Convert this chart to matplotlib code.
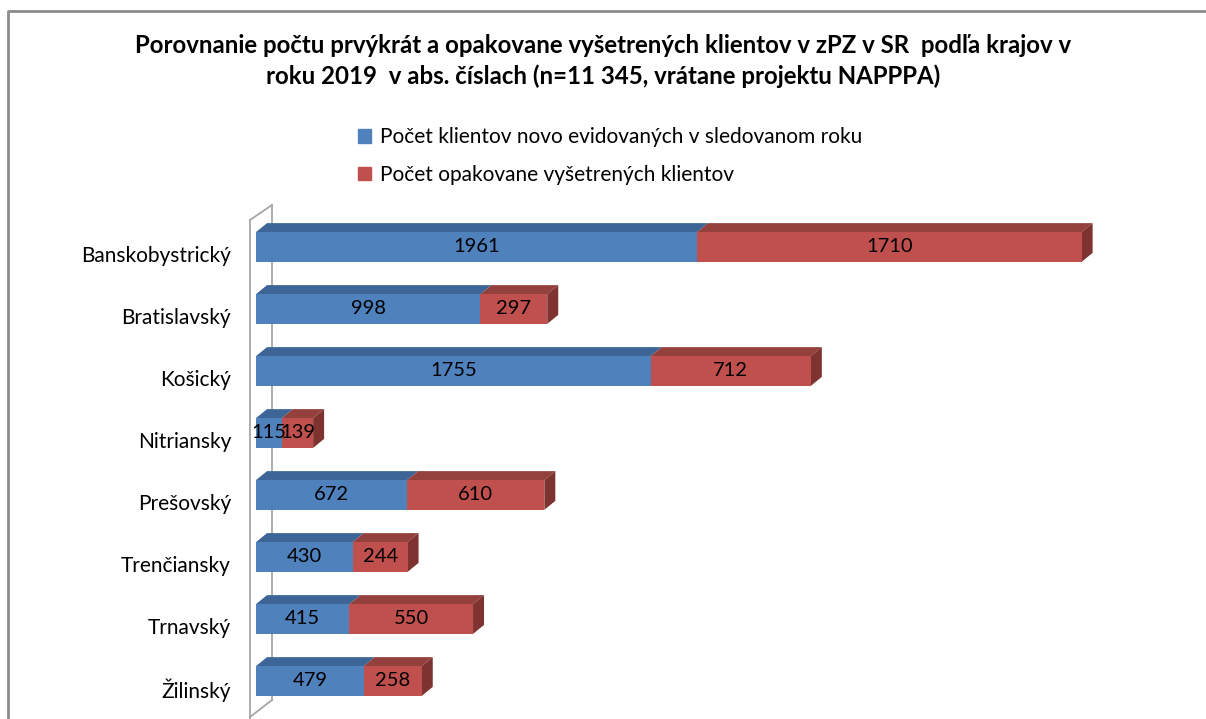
import matplotlib.pyplot as plt
from matplotlib.patches import Polygon
from matplotlib.lines import Line2D
import numpy as np

plt.rcParams['font.family'] = ['Lato', 'DejaVu Sans']

regions = ['Banskobystrický', 'Bratislavský', 'Košický', 'Nitriansky',
           'Prešovský', 'Trenčiansky', 'Trnavský', 'Žilinský']
new_clients = [1961, 998, 1755, 115, 672, 430, 415, 479]
repeat_clients = [1710, 297, 712, 139, 610, 244, 550, 258]
series_names = ['Počet klientov novo evidovaných v sledovanom roku',
                'Počet opakovane vyšetrených klientov']

title = ('Porovnanie počtu prvýkrát a opakovane vyšetrených klientov v zPZ v SR  podľa krajov v\n'
         'roku 2019  v abs. číslach (n=11 345, vrátane projektu NAPPPA)')

blue, blue_top = '#4F81BD', '#3D6696'
red, red_top, red_side = '#C0504D', '#94403D', '#7E3331'

W, H = 1206, 719
fig = plt.figure(figsize=(W / 100, H / 100), dpi=100)

# axes placed in pixel terms
left, right, top, bottom = 256, 1150, 205, 717
ax = fig.add_axes([left / W, 1 - bottom / H, (right - left) / W, (bottom - top) / H])
ax.patch.set_alpha(0)

n = len(regions)
y = np.arange(n)
bar_h = 0.48
step_px = 62.0
ylo = -(247 - top) / step_px
yhi = (bottom - 247) / step_px
xmax = (right - left) / 0.2249
ax.set_xlim(0, xmax)
ax.set_ylim(yhi, ylo)

# 3D depth in data units
dx = 11 / 0.2249
dy = 9 / step_px

new_clients = np.array(new_clients)
repeat_clients = np.array(repeat_clients)

ax.barh(y, new_clients, height=bar_h, color=blue, zorder=3, label=series_names[0])
ax.barh(y, repeat_clients, left=new_clients, height=bar_h, color=red, zorder=3,
        label=series_names[1])

for i in range(n):
    yt = y[i] - bar_h / 2
    yb = y[i] + bar_h / 2
    a = new_clients[i]
    b = a + repeat_clients[i]
    # top faces
    ax.add_patch(Polygon([(0, yt), (a, yt), (a + dx, yt - dy), (dx, yt - dy)],
                         closed=True, facecolor=blue_top, edgecolor='none', zorder=2))
    ax.add_patch(Polygon([(a, yt), (b, yt), (b + dx, yt - dy), (a + dx, yt - dy)],
                         closed=True, facecolor=red_top, edgecolor='none', zorder=2))
    # side face
    ax.add_patch(Polygon([(b, yt), (b + dx, yt - dy), (b + dx, yb - dy), (b, yb)],
                         closed=True, facecolor=red_side, edgecolor='none', zorder=2))
    ax.text(a / 2, y[i], str(new_clients[i]), ha='center', va='center', fontsize=14.5, zorder=5)
    ax.text(a + repeat_clients[i] / 2, y[i], str(repeat_clients[i]), ha='center', va='center',
            fontsize=14.5, zorder=5)

ax.set_yticks(y + 7 / step_px)
ax.set_yticklabels(regions, fontsize=15)
ax.tick_params(axis='y', length=0, pad=18)
ax.set_xticks([])
for s in ax.spines.values():
    s.set_visible(False)

# thin 3D wall on the left
wall = '#A6A6A6'
fx = lambda px: px / W
fy = lambda py: 1 - py / H
for xs, ys in [([250, 250], [220, 719]), ([272, 272], [205, 700]),
               ([250, 272], [220, 205]), ([250, 272], [717, 700])]:
    fig.add_artist(Line2D([fx(v) for v in xs], [fy(v) for v in ys], color=wall, lw=1.3,
                          zorder=-1))

# chart frame
fig.add_artist(Line2D([fx(8), fx(8), fx(1206)], [fy(719), fy(11), fy(11)], color='#8C8C8C', lw=2))

fig.text(0.5, fy(61), title, ha='center', va='center', fontsize=17.3, fontweight='bold',
         linespacing=1.33)

handles = [plt.Rectangle((0, 0), 1, 1, color=blue), plt.Rectangle((0, 0), 1, 1, color=red)]
fig.legend(handles, series_names, loc='upper left', bbox_to_anchor=(fx(350), fy(119)),
           frameon=False, fontsize=15, handlelength=0.6, handleheight=0.6, handletextpad=0.45,
           labelspacing=0.85, borderaxespad=0)

fig.savefig('out.png', dpi=100)
